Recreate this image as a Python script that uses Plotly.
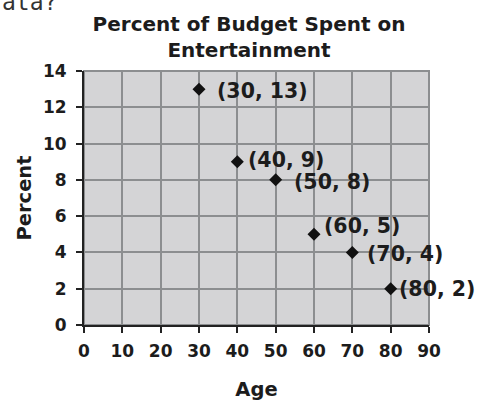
import plotly.graph_objects as go

ages = [30, 40, 50, 60, 70, 80]
percents = [13, 9, 8, 5, 4, 2]
x_ticks = [0, 10, 20, 30, 40, 50, 60, 70, 80, 90]
y_ticks = [0, 2, 4, 6, 8, 10, 12, 14]
title_text = "Percent of Budget Spent on<br>Entertainment"
x_title = "Age"
y_title = "Percent"

# label placement offsets (pixels) per point, style only
label_xshift = [16, 9, 16, 8, 13, 6]
label_yshift = [-2, 2, -2, 8, -2, 0]

FONT = "DejaVu Sans"
TXT = "#1c1c1c"

fig = go.Figure()
fig.add_trace(go.Scatter(
    x=ages, y=percents, mode="markers",
    marker=dict(symbol="diamond", size=10, color="#111111"),
    showlegend=False, hoverinfo="skip",
))

for xv, yv, dx, dy in zip(ages, percents, label_xshift, label_yshift):
    fig.add_annotation(
        x=xv, y=yv, xref="x", yref="y", text=f"<b>({xv}, {yv})</b>",
        showarrow=False, xanchor="left", yanchor="middle",
        xshift=dx, yshift=dy,
        font=dict(family=FONT, size=20.5, color=TXT),
    )

# cropped page text above the chart
fig.add_annotation(
    x=-84/345, y=1 + 54/254, xref="paper", yref="paper", text="ata?",
    showarrow=False, xanchor="left", yanchor="bottom",
    font=dict(family="DejaVu Sans Mono", size=23, color="#333333"),
)

# gray frame of plot area
fig.add_shape(type="rect", xref="paper", yref="paper", x0=0, x1=1, y0=0, y1=1,
              line=dict(color="#8c8e90", width=2), layer="below")

fig.update_layout(
    width=481, height=402,
    margin=dict(l=84, r=52, t=71, b=77, autoexpand=False),
    paper_bgcolor="white", plot_bgcolor="#d4d4d6",
    font=dict(family=FONT, color=TXT),
    title=dict(text=f"<b>{title_text}</b>", x=249/481, xanchor="center",
               xref="container", y=1 - 31/402, yref="container", yanchor="top",
               font=dict(family=FONT, size=20, color=TXT)),
)
fig.update_xaxes(
    range=[0, 90], tickvals=x_ticks, ticktext=[f"<b>{v}</b>" for v in x_ticks],
    showgrid=True, gridcolor="#8c8e90", gridwidth=1.5,
    showline=True, linecolor="#222222", linewidth=2,
    ticks="outside", ticklen=6, tickwidth=2, tickcolor="#222222",
    tickfont=dict(family=FONT, size=17, color=TXT), ticklabelstandoff=4,
    zeroline=False, automargin=False, fixedrange=True,
    title=dict(text=f"<b>{x_title}</b>", standoff=22,
               font=dict(family=FONT, size=19.5, color=TXT)),
)
fig.update_yaxes(
    range=[0, 14], tickvals=y_ticks, ticktext=[f"<b>{v}</b>" for v in y_ticks],
    showgrid=True, gridcolor="#8c8e90", gridwidth=1.5,
    showline=True, linecolor="#222222", linewidth=2,
    ticks="outside", ticklen=6, tickwidth=2, tickcolor="#222222",
    tickfont=dict(family=FONT, size=17, color=TXT), ticklabelstandoff=6,
    zeroline=False, automargin=False, fixedrange=True,
    title=dict(text=f"<b>{y_title}</b>", standoff=6,
               font=dict(family=FONT, size=19.5, color=TXT)),
)

fig.write_html("out.html", config={"displayModeBar": False})
